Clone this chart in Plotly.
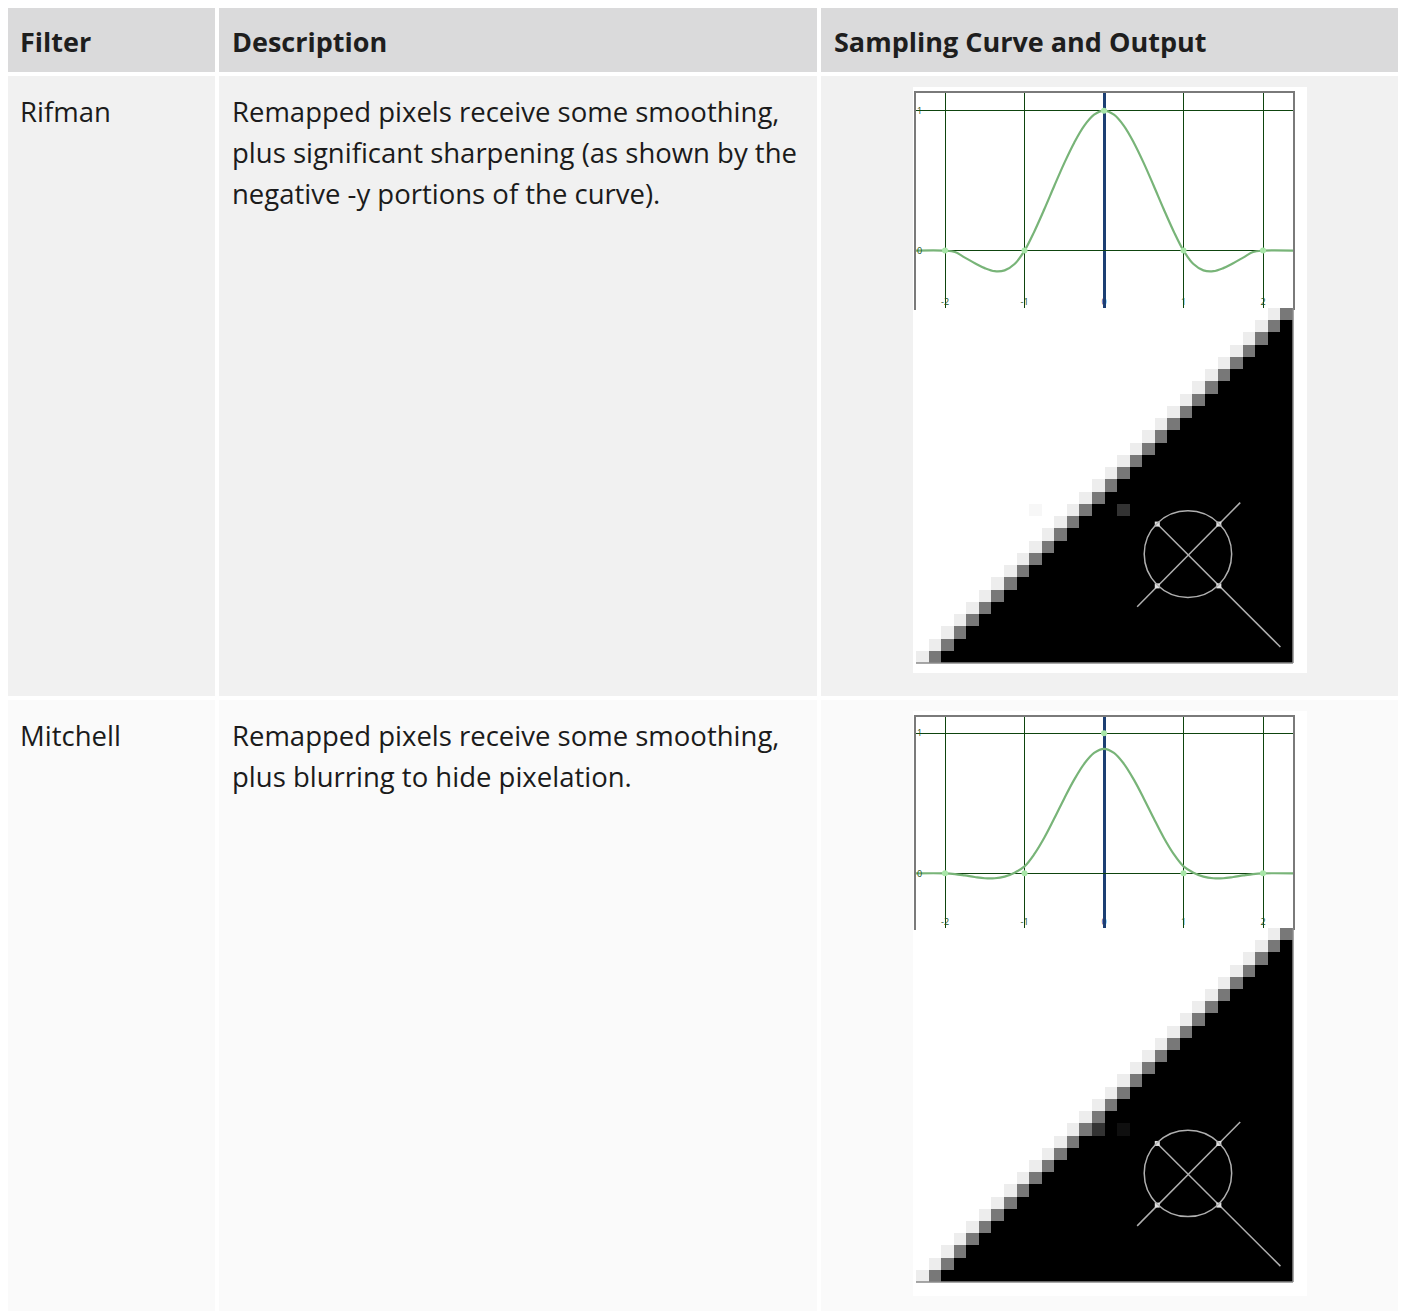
import plotly.graph_objects as go

# page offset: the html body adds an 8px margin, so the figure origin sits at page (8, 8)
OFF = 8
W, H = 1398, 1303

# ---------------- data ----------------
headers = ["Filter", "Description", "Sampling Curve and Output"]
filters = ["Rifman", "Mitchell"]
descriptions = [
    ["Remapped pixels receive some smoothing,",
     "plus significant sharpening (as shown by the",
     "negative -y portions of the curve)."],
    ["Remapped pixels receive some smoothing,",
     "plus blurring to hide pixelation."],
]

curve_x = [-2.4, -2.0, -1.875, -1.75, -1.625, -1.5, -1.375, -1.25, -1.125, -1.0,
           -0.875, -0.75, -0.625, -0.5, -0.375, -0.25, -0.125, 0.0,
           0.125, 0.25, 0.375, 0.5, 0.625, 0.75, 0.875, 1.0,
           1.125, 1.25, 1.375, 1.5, 1.625, 1.75, 1.875, 2.0, 2.4]
rifman_y = [0.0, 0.0, -0.01, -0.05, -0.09, -0.125, -0.147, -0.141, -0.096, 0.0,
            0.139, 0.297, 0.463, 0.625, 0.771, 0.891, 0.971, 1.0,
            0.971, 0.891, 0.771, 0.625, 0.463, 0.297, 0.139, 0.0,
            -0.096, -0.141, -0.147, -0.125, -0.09, -0.05, -0.01, 0.0, 0.0]
mitchell_y = [0.0, 0.0, -0.005, -0.015, -0.026, -0.035, -0.035, -0.023, 0.005, 0.05,
              0.139, 0.256, 0.393, 0.535, 0.669, 0.782, 0.86, 0.889,
              0.86, 0.782, 0.669, 0.535, 0.393, 0.256, 0.139, 0.05,
              0.005, -0.023, -0.035, -0.035, -0.026, -0.015, -0.005, 0.0, 0.0]
sample_x = [-2, -1, 0, 1, 2]
sample_y = [0, 0, 1, 0, 0]
tick_vals = [-2, -1, 0, 1, 2]

# staircase output image: 29 rows x 30 columns
n_rows, n_cols = 29, 30
edge_cols = [29 - r for r in range(29)]   # column of the mid-grey edge pixel per row
edge_light, edge_gray = 0.93, 0.47
rifman_extra = [(16, 16, 0.2), (16, 9, 0.97)]      # (row, col, value)
mitchell_extra = [(16, 14, 0.2), (16, 16, 0.06)]

# reticle overlay, in image-pixel units
reticle_center = (21.64, 20.1)
reticle_radius = (3.48, 3.54)
reticle_line1 = ([25.8, 17.6], [15.9, 24.4])
reticle_line2 = ([19.2, 29.0], [17.65, 27.7])
reticle_dots_x = [19.2, 24.1, 19.2, 24.1]
reticle_dots_y = [17.65, 17.65, 22.7, 22.7]

# ---------------- layout geometry (page pixels) ----------------
col_x = [(7, 215), (219, 817), (821, 1399)]
header_y = (8, 72)
row_y = [(76, 696), (700, 1311)]
row_bg = ["#f1f1f1", "#fafafa"]
img_left, img_right = 916, 1293
plot_y = [(93, 308), (717, 928)]
stair_y = [(308, 663), (928, 1282)]
frame_y = [(87, 673), (711, 1296)]
y_ranges = [(-0.41, 1.126), (-0.39, 1.116)]


def px(x):
    return (x - OFF) / W


def py(y):
    return 1 - (y - OFF) / H


fig = go.Figure()
shapes = []
annotations = []
FONT = "Open Sans"
FS_H = 27
FS = 27.5

# header cells
for (x0, x1), t in zip(col_x, headers):
    shapes.append(dict(type="rect", xref="paper", yref="paper", x0=px(x0), x1=px(x1),
                       y0=py(header_y[1]), y1=py(header_y[0]), fillcolor="#dadadb",
                       line_width=0, layer="below"))
    annotations.append(dict(text="<b>%s</b>" % t, xref="paper", yref="paper",
                            x=px(x0 + 11), y=py(42), xanchor="left", yanchor="middle",
                            showarrow=False, font=dict(family=FONT, size=FS_H, color="#1e1e1e")))

line_h = 41.5
first_line = [111, 735]
for i in range(2):
    for (x0, x1) in col_x:
        shapes.append(dict(type="rect", xref="paper", yref="paper", x0=px(x0), x1=px(x1),
                           y0=py(row_y[i][1]), y1=py(row_y[i][0]), fillcolor=row_bg[i],
                           line_width=0, layer="below"))
    annotations.append(dict(text=filters[i], xref="paper", yref="paper",
                            x=px(18), y=py(first_line[i]), xanchor="left", yanchor="middle",
                            showarrow=False, font=dict(family=FONT, size=FS, color="#1b1b1b")))
    for k, line in enumerate(descriptions[i]):
        annotations.append(dict(text=line, xref="paper", yref="paper",
                                x=px(230), y=py(first_line[i] + k * line_h),
                                xanchor="left", yanchor="middle", showarrow=False,
                                font=dict(family=FONT, size=FS, color="#1b1b1b")))
    # white frame around images
    shapes.append(dict(type="rect", xref="paper", yref="paper", x0=px(913), x1=px(1307),
                       y0=py(frame_y[i][1]), y1=py(frame_y[i][0]), fillcolor="#ffffff",
                       line_width=0, layer="below"))

curves = [rifman_y, mitchell_y]
extras = [rifman_extra, mitchell_extra]
for i in range(2):
    xa_c = 2 * i + 1
    xa_s = 2 * i + 2
    sx = "" if xa_c == 1 else str(xa_c)
    # curve subplot
    fig.add_trace(go.Scatter(x=curve_x, y=curves[i], mode="lines", line_shape="spline",
                             line=dict(color="#78b478", width=2.2), hoverinfo="skip",
                             xaxis="x" + sx, yaxis="y" + sx, showlegend=False))
    fig.add_trace(go.Scatter(x=sample_x, y=sample_y, mode="markers",
                             marker=dict(color="#a8e6a8", size=6), hoverinfo="skip",
                             xaxis="x" + sx, yaxis="y" + sx, showlegend=False))
    ticktext = []
    for v in tick_vals:
        c = "#1d3f7a" if v == 0 else "#175017"
        ticktext.append("<span style='color:%s'>%d</span>" % (c, v))
    fig.layout["xaxis" + sx] = dict(
        domain=[px(img_left), px(img_right)], range=[-2.365, 2.377], anchor="y" + sx,
        tickvals=tick_vals, ticktext=ticktext, ticklabelposition="inside",
        tickfont=dict(size=9, color="#175017"), ticks="",
        showgrid=True, gridcolor="#0e440e", gridwidth=1.2,
        zeroline=True, zerolinecolor="#1c3f73", zerolinewidth=3,
        showline=True, mirror=True, linecolor="#7a7a7a", linewidth=1.5, fixedrange=True)
    fig.layout["yaxis" + sx] = dict(
        domain=[py(plot_y[i][1]), py(plot_y[i][0])], range=list(y_ranges[i]), anchor="x" + sx,
        tickvals=[0, 1], ticktext=["0", "1"], ticklabelposition="inside",
        tickfont=dict(size=9, color="#175017"), ticks="",
        showgrid=True, gridcolor="#0e440e", gridwidth=1.2,
        zeroline=True, zerolinecolor="#0e440e", zerolinewidth=1.2,
        showline=True, mirror=True, linecolor="#7a7a7a", linewidth=1.5, fixedrange=True)

    # staircase heatmap
    z = []
    for r in range(n_rows):
        row = []
        e = edge_cols[r]
        for c in range(n_cols):
            if c < e - 1:
                row.append(1.0)
            elif c == e - 1:
                row.append(edge_light)
            elif c == e:
                row.append(edge_gray)
            else:
                row.append(0.0)
        z.append(row)
    for (r, c, v) in extras[i]:
        z[r][c] = v
    ss = str(xa_s)
    fig.add_trace(go.Heatmap(z=z, x0=0.5, dx=1, y0=0.5, dy=1, zmin=0, zmax=1,
                             colorscale=[[0, "#000000"], [1, "#ffffff"]], showscale=False,
                             hoverinfo="skip", xaxis="x" + ss, yaxis="y" + ss))
    fig.add_trace(go.Scatter(x=reticle_line1[0], y=reticle_line1[1], mode="lines",
                             line=dict(color="#b0b0b0", width=1.5), hoverinfo="skip",
                             xaxis="x" + ss, yaxis="y" + ss, showlegend=False))
    fig.add_trace(go.Scatter(x=reticle_line2[0], y=reticle_line2[1], mode="lines",
                             line=dict(color="#b0b0b0", width=1.5), hoverinfo="skip",
                             xaxis="x" + ss, yaxis="y" + ss, showlegend=False))
    fig.add_trace(go.Scatter(x=reticle_dots_x, y=reticle_dots_y, mode="markers",
                             marker=dict(color="#e0e0e0", size=5, symbol="square"),
                             hoverinfo="skip", xaxis="x" + ss, yaxis="y" + ss, showlegend=False))
    shapes.append(dict(type="circle", xref="x" + ss, yref="y" + ss,
                       x0=reticle_center[0] - reticle_radius[0], x1=reticle_center[0] + reticle_radius[0],
                       y0=reticle_center[1] - reticle_radius[1], y1=reticle_center[1] + reticle_radius[1],
                       line=dict(color="#b0b0b0", width=1.5), layer="above"))
    fig.layout["xaxis" + ss] = dict(domain=[px(img_left), px(img_right)], range=[0, n_cols],
                                    anchor="y" + ss, visible=False, fixedrange=True)
    fig.layout["yaxis" + ss] = dict(domain=[py(stair_y[i][1]), py(stair_y[i][0])],
                                    range=[n_rows, 0], anchor="x" + ss, visible=False, fixedrange=True)
    # right / bottom edge of the output image
    shapes.append(dict(type="line", xref="x" + ss + " domain", yref="y" + ss + " domain",
                       x0=1, x1=1, y0=0, y1=1, line=dict(color="#8a8a8a", width=1.5)))
    shapes.append(dict(type="line", xref="x" + ss + " domain", yref="y" + ss + " domain",
                       x0=0, x1=1, y0=0, y1=0, line=dict(color="#8a8a8a", width=1.5)))

fig.update_layout(width=W, height=H, margin=dict(l=0, r=0, t=0, b=0),
                  paper_bgcolor="#ffffff", plot_bgcolor="#000000",
                  shapes=shapes, annotations=annotations, showlegend=False)

fig.write_html("out.html", config={"displayModeBar": False})
